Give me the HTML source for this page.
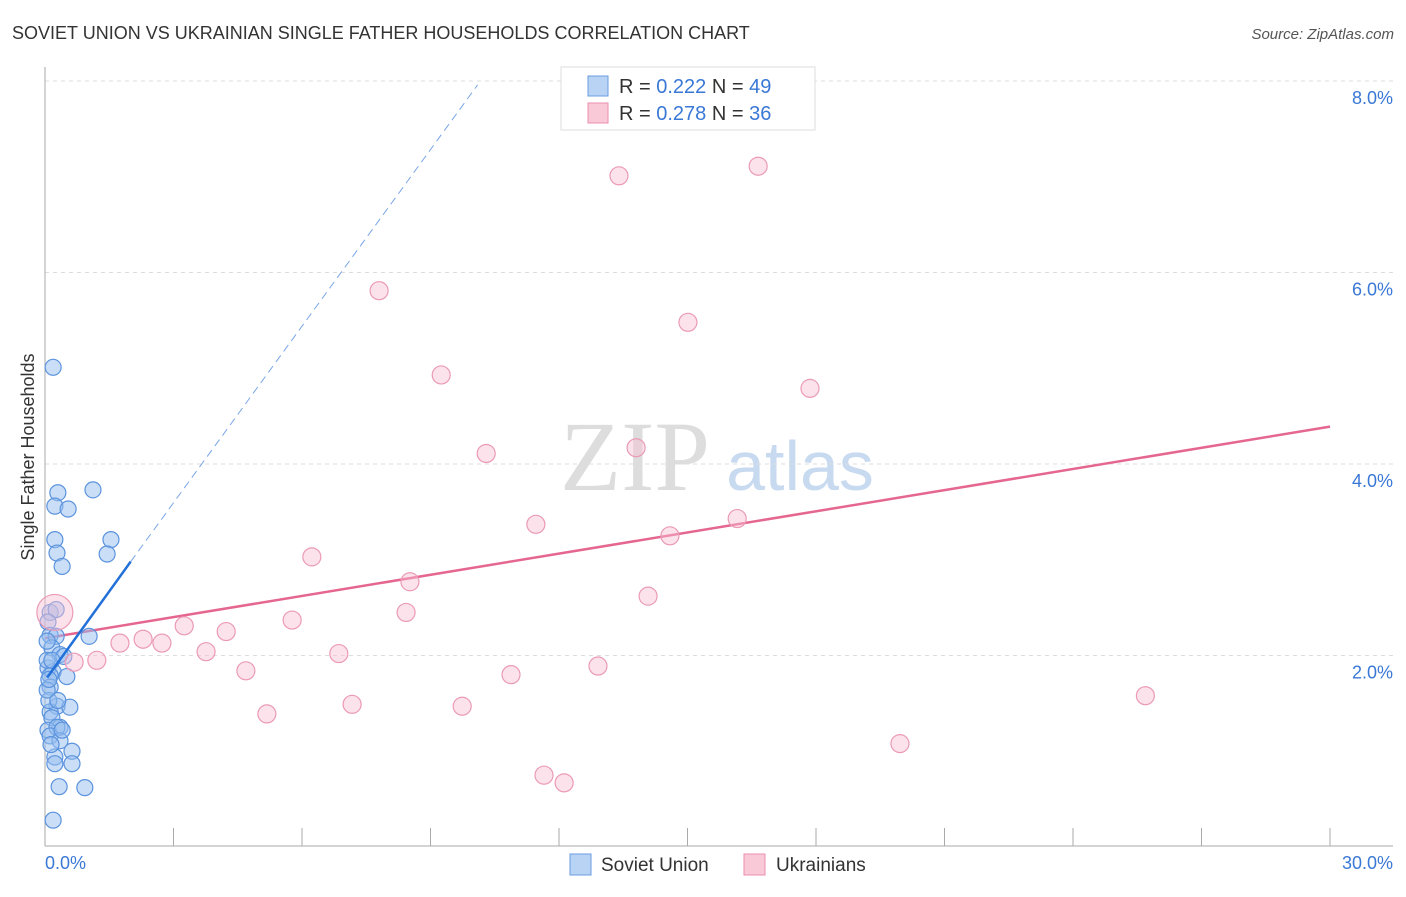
<!DOCTYPE html>
<html><head><meta charset="utf-8"><style>
body{margin:0;background:#fff;font-family:"Liberation Sans",sans-serif}
</style></head><body>
<svg width="1406" height="892" xmlns="http://www.w3.org/2000/svg" font-family="Liberation Sans, sans-serif">
<text x="12" y="39" font-size="18" fill="#333">SOVIET UNION VS UKRAINIAN SINGLE FATHER HOUSEHOLDS CORRELATION CHART</text>
<text x="1394" y="39" font-size="15" fill="#555" font-style="italic" text-anchor="end">Source: ZipAtlas.com</text>
<text x="635" y="490" font-size="100" fill="#ddd" text-anchor="middle" font-family="Liberation Serif, serif">ZIP</text>
<text x="800" y="490" font-size="70" fill="#c8daf0" text-anchor="middle">atlas</text>
<g id="grid"></g><g id="axes"></g><g id="trend"></g><g id="pts"></g>
<text transform="translate(34,457) rotate(-90)" font-size="18" fill="#333" text-anchor="middle">Single Father Households</text>
<g>
<rect x="561" y="67" width="254" height="63" fill="#fff" stroke="#ddd"/>
<rect x="588" y="76" width="20" height="20" fill="#b9d3f5" stroke="#6a9be0"/>
<rect x="588" y="103" width="20" height="20" fill="#f9c9d8" stroke="#eb8fae"/>
<text x="619" y="93" font-size="20" fill="#333">R = <tspan fill="#3a78d6">0.222</tspan>   N = <tspan fill="#3a78d6">49</tspan></text>
<text x="619" y="120" font-size="20" fill="#333">R = <tspan fill="#3a78d6">0.278</tspan>   N = <tspan fill="#3a78d6">36</tspan></text>
</g>
<g>
<rect x="570" y="854" width="21" height="21" fill="#b9d3f5" stroke="#6a9be0"/>
<text x="601" y="871" font-size="19" fill="#333">Soviet Union</text>
<rect x="744" y="854" width="21" height="21" fill="#f9c9d8" stroke="#eb8fae"/>
<text x="776" y="871" font-size="19" fill="#333">Ukrainians</text>
</g>
</svg>
<script>
const xTicks=[0,3,6,9,12,15,18,21,24,27,30];
const yTicks=[2,4,6,8];
const blueX=[0.19,0.30,0.23,0.54,1.12,0.23,0.28,0.40,1.54,1.45,0.12,0.26,0.07,0.12,0.26,1.03,0.16,0.35,0.44,0.07,0.19,0.12,0.51,0.12,0.28,0.58,0.12,0.16,0.35,0.07,0.28,0.12,0.35,0.63,0.23,0.23,0.63,0.33,0.93,0.19,0.05,0.05,0.09,0.14,0.30,0.05,0.40,0.09,0.16];
const blueY=[5.01,3.70,3.56,3.53,3.73,3.21,3.07,2.93,3.21,3.06,2.45,2.48,2.35,2.21,2.20,2.20,2.08,2.01,1.99,1.87,1.83,1.79,1.78,1.67,1.47,1.46,1.41,1.35,1.25,1.22,1.25,1.16,1.11,1.00,0.94,0.87,0.87,0.63,0.62,0.28,1.95,2.15,1.53,1.07,1.53,1.64,1.22,1.75,1.95];
const pinkX=[13.40,16.65,7.80,15.01,9.25,17.86,10.30,13.80,11.46,16.16,14.59,6.23,8.52,14.08,8.43,5.77,3.25,4.23,2.29,1.75,2.73,3.76,6.86,1.21,0.68,4.69,12.91,10.88,5.18,7.17,9.74,25.69,19.96,11.65,12.12,0.23];
const pinkY=[7.01,7.11,5.81,5.48,4.93,4.79,4.11,4.17,3.37,3.43,3.25,3.03,2.77,2.62,2.45,2.37,2.31,2.25,2.17,2.13,2.13,2.04,2.02,1.95,1.93,1.84,1.89,1.80,1.39,1.49,1.47,1.58,1.08,0.75,0.67,2.45];
const pinkR=[9,9,9,9,9,9,9,9,9,9,9,9,9,9,9,9,9,9,9,9,9,9,9,9,9,9,9,9,9,9,9,9,9,9,9,18];
const blueTrend=[[0.05,1.77],[2.0,2.98]], blueDash=[[2.0,2.98],[10.1,7.96]];
const pinkTrend=[[0,2.18],[30,4.39]];
const X=v=>45+v/30*1285, Y=v=>847-v*95.75;
const NS='http://www.w3.org/2000/svg';
function mk(p,t,a){const e=document.createElementNS(NS,t);for(const k in a)e.setAttribute(k,a[k]);document.getElementById(p).appendChild(e);return e;}
yTicks.forEach(t=>{
 const l=mk('grid','line',{x1:45,x2:1393,y1:Y(t),y2:Y(t),stroke:'#ddd','stroke-dasharray':'4,4'});
 
 
 const tx=mk('grid','text',{x:1393,y:Y(t)+23,'font-size':18,fill:'#3a78d6','text-anchor':'end'});
 tx.textContent=t.toFixed(1)+'%';
 
 
});
{const l=mk('grid','line',{x1:45,x2:1393,y1:Y(8),y2:Y(8),stroke:'#ddd','stroke-dasharray':'4,4'});}
const ya=mk('axes','line',{x1:45,x2:45,y1:67,y2:846,stroke:'#aaa'});


const xa=mk('axes','line',{x1:45,x2:1393,y1:846,y2:846,stroke:'#aaa'});


xTicks.forEach(t=>{
 const l=mk('axes','line',{x1:X(t),x2:X(t),y1:828,y2:846,stroke:'#aaa'});
 
 
});
[[0,'start'],[30,'end']].forEach(([t,a])=>{
 const tx=mk('axes','text',{x:t===0?45:1393,y:869,'font-size':18,fill:'#3a78d6','text-anchor':a});
 tx.textContent=t.toFixed(1)+'%';
 
 
});
blueX.forEach((v,i)=>{
 const c=mk('pts','circle',{cx:X(v),cy:Y(blueY[i]),r:8,fill:'rgba(150,190,240,0.5)',stroke:'#5b93dd','stroke-width':1.2});
 
 
});
pinkX.forEach((v,i)=>{
 const c=mk('pts','circle',{cx:X(v),cy:Y(pinkY[i]),r:pinkR[i],fill:'rgba(248,190,210,0.45)',stroke:'#eb9ab6','stroke-width':1.2});
 
 
});
const pt=mk('trend','line',{x1:X(pinkTrend[0][0]),y1:Y(pinkTrend[0][1]),x2:X(pinkTrend[1][0]),y2:Y(pinkTrend[1][1]),stroke:'#e5668f','stroke-width':2.5});


const bt=mk('pts','line',{x1:X(blueTrend[0][0]),y1:Y(blueTrend[0][1]),x2:X(blueTrend[1][0]),y2:Y(blueTrend[1][1]),stroke:'#2270d8','stroke-width':2.5});


const bd=mk('trend','line',{x1:X(blueDash[0][0]),y1:Y(blueDash[0][1]),x2:X(blueDash[1][0]),y2:Y(blueDash[1][1]),stroke:'#7aa6e6','stroke-width':1,'stroke-dasharray':'8,5'});


</script>
</body></html>
